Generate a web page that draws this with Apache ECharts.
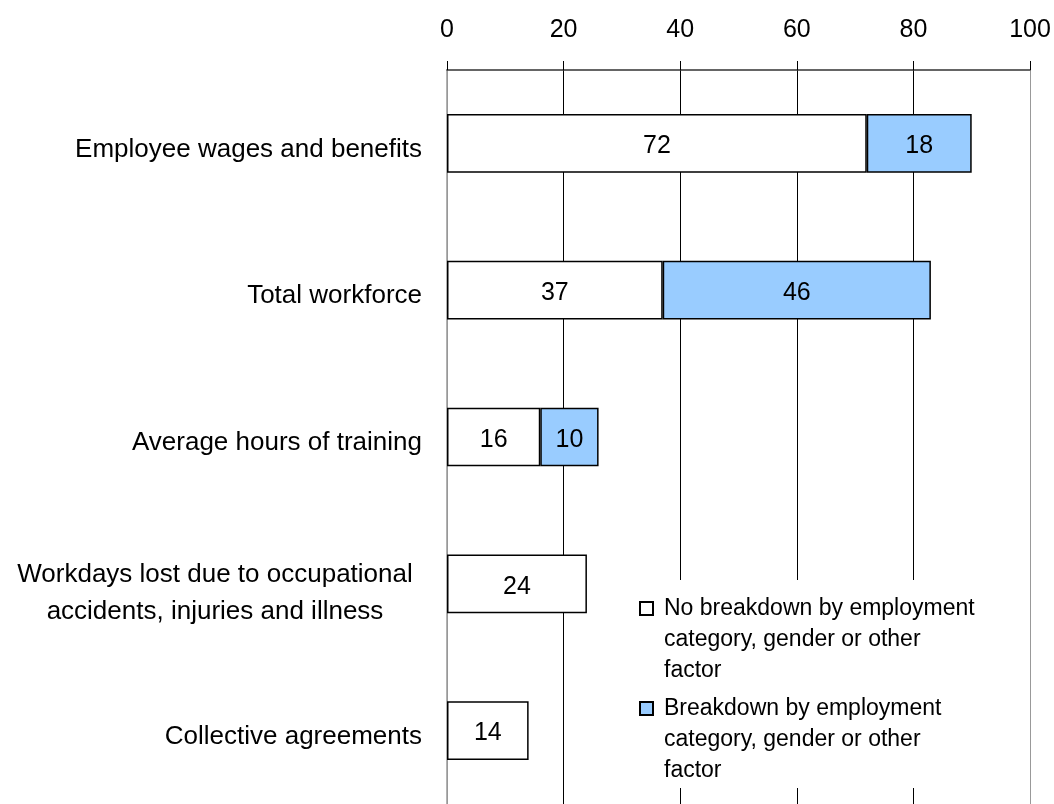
<!DOCTYPE html>
<html>
<head>
<meta charset="utf-8">
<script src="https://cdn.jsdelivr.net/npm/echarts@6/dist/echarts.min.js"></script>
<style>
  html, body { margin: 0; padding: 0; background: #fff; }
  #chart { width: 1054px; height: 804px; }
</style>
</head>
<body>
<div id="chart"></div>
<script>
var categories = [
  'Employee wages and benefits',
  'Total workforce',
  'Average hours of training',
  'Workdays lost due to occupational\naccidents, injuries and illness',
  'Collective agreements'
];
var noBreakdown = [72, 37, 16, 24, 14];
var breakdown = [18, 46, 10, null, null];
var seriesNames = ['No breakdown', 'Breakdown'];
var legendText = {
  'No breakdown': 'No breakdown by employment\ncategory, gender or other\nfactor',
  'Breakdown': 'Breakdown by employment\ncategory, gender or other\nfactor'
};
var xTicks = [0, 20, 40, 60, 80, 100];

var font = 'Liberation Sans';
var myChart = echarts.init(document.getElementById('chart'));

// one legend per item; two blank lines on top so the icon lines up with the first text line
function makeLegend(name, top) {
  return {
    orient: 'vertical',
    left: 639,
    top: top,
    padding: 0,
    itemWidth: 13,
    itemHeight: 13,
    icon: 'rect',
    data: [name],
    formatter: function (n) { return '\n\n' + legendText[n]; },
    textStyle: { fontSize: 23, lineHeight: 31, color: '#000', fontFamily: font, padding: [0, 0, 0, 6] }
  };
}

var option = {
  backgroundColor: '#fff',
  animation: false,
  textStyle: { fontFamily: font },
  grid: { left: 447, top: 70, width: 583, height: 736, containLabel: false },
  graphic: [{
    type: 'rect',
    z: 3,
    shape: { x: 628, y: 580, width: 377, height: 208 },
    style: { fill: '#fff' }
  }],
  legend: [makeLegend(seriesNames[0], 531), makeLegend(seriesNames[1], 631)],
  xAxis: {
    type: 'value',
    position: 'top',
    min: 0,
    max: 100,
    interval: 20,
    axisLine: { show: true, lineStyle: { color: '#333', width: 1.5 } },
    axisTick: { show: true, length: 9, lineStyle: { color: '#000' } },
    axisLabel: {
      color: '#000', fontSize: 25, margin: 27,
      formatter: function (v) { return xTicks.indexOf(v) >= 0 ? String(v) : ''; }
    },
    // plot border lines (0 and 100) are grey, inner gridlines black
    splitLine: { show: true, lineStyle: { color: ['#999', '#000', '#000', '#000', '#000', '#999'], width: 1 } }
  },
  yAxis: {
    type: 'category',
    inverse: true,
    data: categories,
    axisLine: { show: true, lineStyle: { color: '#999', width: 1.5 } },
    axisTick: { show: false },
    axisLabel: {
      color: '#000', fontSize: 26, lineHeight: 37, margin: 25,
      // small spacer line on top pushes the text a bit below the bar centre, like the original
      formatter: function (v) {
        if (v.indexOf('\n') >= 0) {
          return '{s2| }\n' + v.split('\n').map(function (s) { return '{c|' + s + '}'; }).join('\n');
        }
        return '{s1| }\n{r|' + v + '}';
      },
      rich: {
        s1: { fontSize: 1, lineHeight: 12 },
        s2: { fontSize: 1, lineHeight: 20 },
        r: { fontSize: 26, lineHeight: 37, color: '#000', fontFamily: font },
        c: { fontSize: 26, lineHeight: 37, width: 414, align: 'center', color: '#000', fontFamily: font }
      }
    }
  },
  series: [
    {
      name: seriesNames[0],
      type: 'bar',
      stack: 'total',
      barWidth: '40%',
      data: noBreakdown,
      itemStyle: { color: '#ffffff', borderColor: '#000', borderWidth: 1.5 },
      label: { show: true, position: 'inside', offset: [0, 3], color: '#000', fontSize: 25, fontFamily: font }
    },
    {
      name: seriesNames[1],
      type: 'bar',
      stack: 'total',
      barWidth: '40%',
      data: breakdown,
      itemStyle: { color: '#99ccff', borderColor: '#000', borderWidth: 1.5 },
      label: { show: true, position: 'inside', offset: [0, 3], color: '#000', fontSize: 25, fontFamily: font }
    }
  ]
};
option && myChart.setOption(option);
</script>
</body>
</html>
